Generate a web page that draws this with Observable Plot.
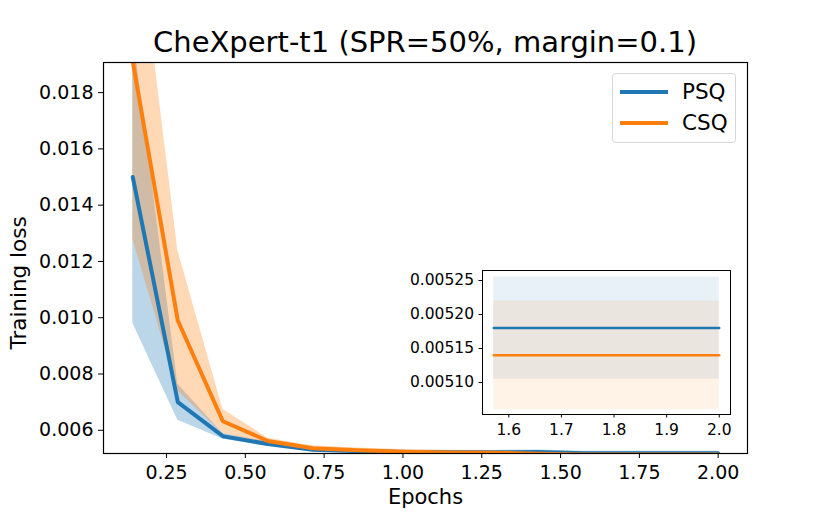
<!DOCTYPE html>
<html><head><meta charset="utf-8">
<script src="https://cdn.jsdelivr.net/npm/d3@7"></script>
<script src="https://cdn.jsdelivr.net/npm/@observablehq/plot@0.6"></script>
<style>
body{margin:0;background:#fff;font-family:"DejaVu Sans",sans-serif;}
#wrap{position:relative;width:830px;height:519px;overflow:hidden;background:#fff;}
#title{position:absolute;left:103px;width:644px;top:25px;text-align:center;font-size:29px;line-height:34px;color:#000;white-space:nowrap;}
#main{position:absolute;left:0;top:50px;}
#inset{position:absolute;left:402px;top:265px;}
#legend{position:absolute;left:612px;top:73px;width:122px;height:68px;border:1px solid #d6d6d6;border-radius:4px;background:rgba(255,255,255,0.8);}
.sw{position:absolute;left:7px;width:48px;height:4px;}
.lb{position:absolute;left:69px;font-size:21.5px;line-height:24px;color:#000;}
</style></head><body>
<div id="wrap">
<div id="title">CheXpert-t1 (SPR=50%, margin=0.1)</div>
<div id="main"></div>
<div id="inset"></div>
<div id="legend">
  <div class="sw" style="top:16px;background:#1f77b4"></div><div class="lb" style="top:6px">PSQ</div>
  <div class="sw" style="top:47px;background:#ff7f0e"></div><div class="lb" style="top:37px">CSQ</div>
</div>
</div>
<script>
const epochs = [0.1429, 0.2857, 0.4286, 0.5714, 0.7143, 0.8571, 1.0, 1.1429, 1.2857, 1.4286, 1.5714, 1.7143, 1.8571, 2.0];
const psqMean = [0.0150, 0.0070, 0.00579, 0.00551, 0.00531, 0.00526, 0.00523, 0.00522, 0.00522, 0.00523, 0.00518, 0.00518, 0.00518, 0.00518];
const psqStd  = [0.0052, 0.00064, 0.00010, 0.00008, 0.00006, 0.00006, 0.00006, 0.00006, 0.00006, 0.00007, 0.000075, 0.000075, 0.000075, 0.000075];
const csqMean = [0.0191, 0.0099, 0.00632, 0.00562, 0.00536, 0.00529, 0.00524, 0.00521, 0.00520, 0.00517, 0.00514, 0.00514, 0.00514, 0.00514];
const csqStd  = [0.0063, 0.0025, 0.00043, 0.00010, 0.00008, 0.00008, 0.00008, 0.00008, 0.00008, 0.00008, 0.00008, 0.00008, 0.00008, 0.00008];
const seriesNames = ["PSQ", "CSQ"];
const seriesColors = ["#1f77b4", "#ff7f0e"];
const xTicks = [0.25, 0.5, 0.75, 1.0, 1.25, 1.5, 1.75, 2.0];
const yTicks = [0.006, 0.008, 0.010, 0.012, 0.014, 0.016, 0.018];
const insetXTicks = [1.6, 1.7, 1.8, 1.9, 2.0];
const insetYTicks = [0.00510, 0.00515, 0.00520, 0.00525];

const rows = (means, stds) => epochs.map((x, i) => ({x, mean: means[i], lo: means[i] - stds[i], hi: means[i] + stds[i]}));
const psq = rows(psqMean, psqStd);
const csq = rows(csqMean, csqStd);
const font = "DejaVu Sans";

const main = Plot.plot({
  width: 830, height: 469,
  marginLeft: 103, marginRight: 83, marginTop: 12, marginBottom: 66,
  style: {fontFamily: font, fontSize: "19px", color: "#000", background: "transparent"},
  x: {domain: [0.05, 2.093]},
  y: {domain: [0.005175, 0.01907]},
  marks: [
    Plot.areaY(psq, {x: "x", y1: "lo", y2: "hi", fill: seriesColors[0], fillOpacity: 0.3, clip: true}),
    Plot.areaY(csq, {x: "x", y1: "lo", y2: "hi", fill: seriesColors[1], fillOpacity: 0.3, clip: true}),
    Plot.lineY(psq, {x: "x", y: "mean", stroke: seriesColors[0], strokeWidth: 4, clip: true}),
    Plot.lineY(csq, {x: "x", y: "mean", stroke: seriesColors[1], strokeWidth: 4, clip: true}),
    Plot.frame({stroke: "#000", strokeWidth: 1.2}),
    Plot.axisX({ticks: xTicks, tickFormat: d => d.toFixed(2), tickSize: 5, tickPadding: 7, label: null, fontSize: 19}),
    Plot.axisY({ticks: yTicks, tickFormat: d => d.toFixed(3), tickSize: 5, tickPadding: 5, label: null, fontSize: 19}),
    Plot.text(["Training loss"], {frameAnchor: "left", textAnchor: "middle", rotate: -90, dx: -84, dy: 25, fontSize: 21.5}),
    Plot.text(["Epochs"], {frameAnchor: "bottom", dy: 50, fontSize: 21}),
  ]
});
document.getElementById("main").appendChild(main);

const psqIn = psq.filter(d => d.x >= 1.57);
const csqIn = csq.filter(d => d.x >= 1.57);
const inset = Plot.plot({
  width: 338, height: 179,
  marginLeft: 80, marginRight: 10, marginTop: 5, marginBottom: 30,
  style: {fontFamily: font, fontSize: "15.5px", color: "#000", background: "transparent"},
  x: {domain: [1.55, 2.0214]},
  y: {domain: [0.005053, 0.0052647]},
  marks: [
    Plot.frame({fill: "white"}),
    Plot.areaY(psqIn, {x: "x", y1: "lo", y2: "hi", fill: seriesColors[0], fillOpacity: 0.1}),
    Plot.areaY(csqIn, {x: "x", y1: "lo", y2: "hi", fill: seriesColors[1], fillOpacity: 0.1}),
    Plot.lineY(psqIn, {x: "x", y: "mean", stroke: seriesColors[0], strokeWidth: 2.5}),
    Plot.lineY(csqIn, {x: "x", y: "mean", stroke: seriesColors[1], strokeWidth: 2.5}),
    Plot.frame({stroke: "#000", strokeWidth: 1}),
    Plot.axisX({ticks: insetXTicks, tickFormat: d => d.toFixed(1), tickSize: 3.5, tickPadding: 6, label: null, fontSize: 15.5}),
    Plot.axisY({ticks: insetYTicks, tickFormat: d => d.toFixed(5), tickSize: 3.5, tickPadding: 5, label: null, fontSize: 15.5})
  ]
});
document.getElementById("inset").appendChild(inset);
</script>
</body></html>
